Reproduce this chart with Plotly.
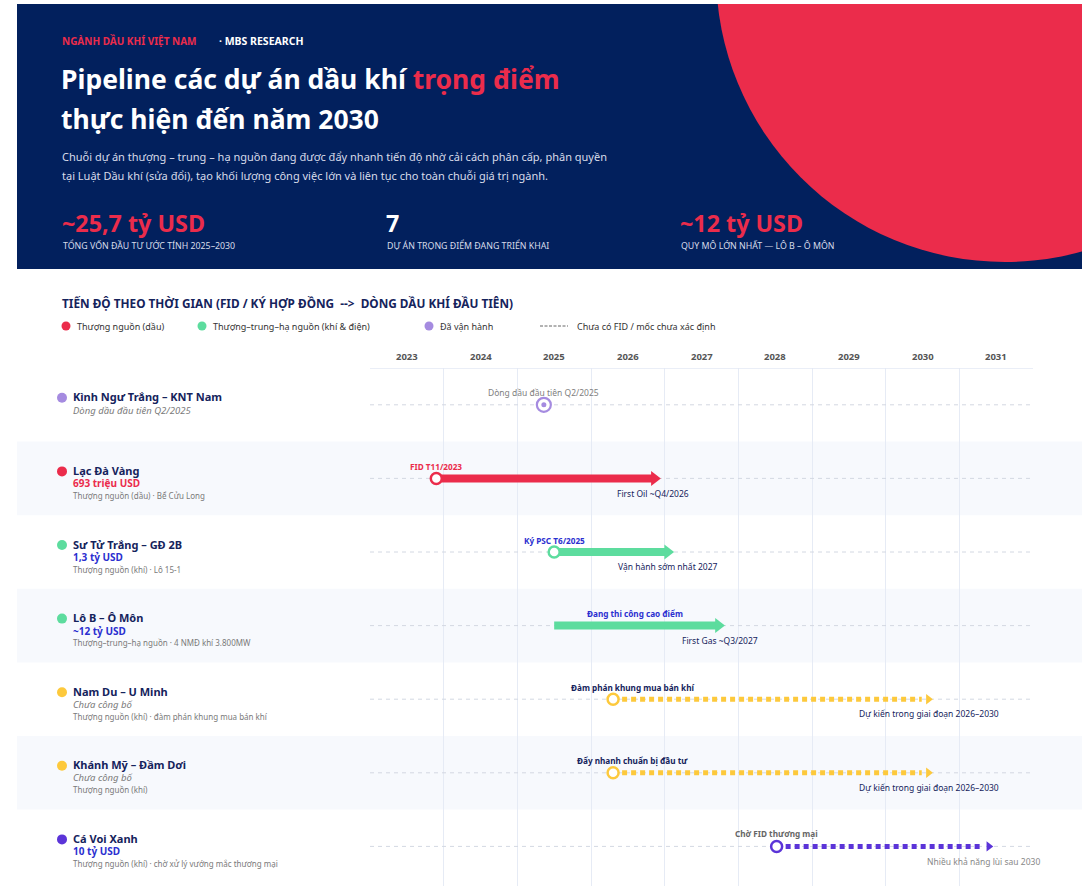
import plotly.graph_objects as go

W, H = 1088, 886

# ---- data ----
projects = ["Kình Ngư Trắng – KNT Nam", "Lạc Đà Vàng", "Sư Tử Trắng – GĐ 2B", "Lô B – Ô Môn",
            "Nam Du – U Minh", "Khánh Mỹ – Đầm Dơi", "Cá Voi Xanh"]
values = ["Dòng dầu đầu tiên Q2/2025", "693 triệu USD", "1,3 tỷ USD", "~12 tỷ USD",
          "Chưa công bố", "Chưa công bố", "10 tỷ USD"]
details = ["", "Thượng nguồn (dầu) · Bể Cửu Long", "Thượng nguồn (khí) · Lô 15-1",
           "Thượng–trung–hạ nguồn · 4 NMĐ khí 3.800MW",
           "Thượng nguồn (khí) · đàm phán khung mua bán khí", "Thượng nguồn (khí)",
           "Thượng nguồn (khí) · chờ xử lý vướng mắc thương mại"]
segment = ["operating", "oil", "gas", "gas", "pending", "pending", "pending_deep"]
status = ["operating", "fid", "fid", "construction", "no_fid", "no_fid", "no_fid"]
start_year = [2025.36, 2023.9, 2025.5, 2025.5, 2026.3, 2026.3, 2028.52]
end_year = [2025.36, 2026.84, 2027.02, 2027.71, 2030.49, 2030.49, 2031.31]
top_label = ["Dòng dầu đầu tiên Q2/2025", "FID T11/2023", "Ký PSC T6/2025", "Đang thi công cao điểm",
             "Đàm phán khung mua bán khí", "Đẩy nhanh chuẩn bị đầu tư", "Chờ FID thương mại"]
top_label_x = [2025.36, 2023.9, 2025.5, 2026.6, 2026.56, 2026.56, 2028.52]
end_label = ["", "First Oil ~Q4/2026", "Vận hành sớm nhất 2027", "First Gas ~Q3/2027",
             "Dự kiến trong giai đoạn 2026–2030", "Dự kiến trong giai đoạn 2026–2030",
             "Nhiều khả năng lùi sau 2030"]
end_label_x = [None, 2026.84, 2027.05, 2027.75, 2030.59, 2030.59, 2031.33]
years = list(range(2023, 2032))

legend_items = ["Thượng nguồn (dầu)", "Thượng–trung–hạ nguồn (khí & điện)", "Đã vận hành"]
legend_note = "Chưa có FID / mốc chưa xác định"

kpi_values = ["~25,7 tỷ USD", "7", "~12 tỷ USD"]
kpi_labels = ["TỔNG VỐN ĐẦU TƯ ƯỚC TÍNH 2025–2030", "DỰ ÁN TRỌNG ĐIỂM ĐANG TRIỂN KHAI",
              "QUY MÔ LỚN NHẤT — LÔ B – Ô MÔN"]

# ---- styling ----
NAVY = "#02205d"
RED = "#eb2c4b"
GREEN = "#5ddc9e"
LAVENDER = "#a58be0"
YELLOW = "#fdc93c"
PURPLE = "#5b34d8"
BLUE = "#2b2fd0"
INK = "#15235c"
GREY = "#7a7a7a"
FONT = "Noto Sans"

seg_color = {"operating": LAVENDER, "oil": RED, "gas": GREEN, "pending": YELLOW, "pending_deep": PURPLE}
value_color = [GREY, RED, BLUE, BLUE, GREY, GREY, BLUE]
top_color = ["#808080", RED, BLUE, BLUE, INK, INK, "#666666"]
end_color = [INK, INK, INK, INK, INK, INK, "#888888"]


def px(x):
    return x / W


def py(y):
    return 1 - y / H


TOP, ROWH = 368, 73.6
NROWS = len(projects)
fig = go.Figure()

shapes = []
annotations = []

# header block
shapes.append(dict(type="rect", xref="paper", yref="paper", x0=px(17), x1=px(1082), y0=py(269), y1=py(4),
                   fillcolor=NAVY, line_width=0, layer="below"))
cx, cy, r = 1005, -27, 289
shapes.append(dict(type="circle", xref="paper", yref="paper", x0=px(cx - r), x1=px(cx + r),
                   y0=py(cy + r), y1=py(cy - r), fillcolor=RED, line_width=0, layer="below"))
shapes.append(dict(type="rect", xref="paper", yref="paper", x0=px(1082), x1=px(1200), y0=py(280), y1=py(-400),
                   fillcolor="white", line_width=0, layer="below"))
shapes.append(dict(type="rect", xref="paper", yref="paper", x0=px(0), x1=px(1200), y0=py(4), y1=py(-400),
                   fillcolor="white", line_width=0, layer="below"))


def text(x, y, s, size, color, bold=False, italic=False, anchor="left", family=FONT):
    if bold:
        s = "<b>" + s + "</b>"
    if italic:
        s = "<i>" + s + "</i>"
    annotations.append(dict(xref="paper", yref="paper", x=px(x - 2), y=py(y), text=s, showarrow=False,
                            xanchor=anchor, yanchor="middle", font=dict(family=family, size=size, color=color)))


text(62, 41, "NGÀNH DẦU KHÍ VIỆT NAM", 10, RED, bold=True)
text(219, 41, "· MBS RESEARCH", 10.5, "white", bold=True)
text(61, 79, "Pipeline các dự án dầu khí <span style='color:%s'>trọng điểm</span>" % RED, 26.5, "white", bold=True)
text(61, 119, "thực hiện đến năm 2030", 26.5, "white", bold=True)
text(62, 156, "Chuỗi dự án thượng – trung – hạ nguồn đang được đẩy nhanh tiến độ nhờ cải cách phân cấp, phân quyền",
     11, "#d8dcea")
text(62, 176, "tại Luật Dầu khí (sửa đổi), tạo khối lượng công việc lớn và liên tục cho toàn chuỗi giá trị ngành.",
     11, "#d8dcea")
for xk, v, lab, col in zip([62, 386, 680], kpi_values, kpi_labels, [RED, "white", RED]):
    text(xk, 223, v, 23.3, col, bold=True)
    text(xk + 1, 246, lab, 8.8, "#d8dcea")

# section title + legend
text(62, 303, "TIẾN ĐỘ THEO THỜI GIAN (FID / KÝ HỢP ĐỒNG &nbsp;--&gt;&nbsp; DÒNG DẦU KHÍ ĐẦU TIÊN)", 11.8, INK,
     bold=True)
for lx, lab, col in zip([66, 202, 429], legend_items, [RED, GREEN, LAVENDER]):
    shapes.append(dict(type="circle", xref="paper", yref="paper", x0=px(lx - 4.5), x1=px(lx + 4.5),
                       y0=py(326 + 4.5), y1=py(326 - 4.5), fillcolor=col, line_width=0))
    text(lx + 11, 326, lab, 9, "#333333")
shapes.append(dict(type="line", xref="paper", yref="paper", x0=px(540), x1=px(568), y0=py(326), y1=py(326),
                   line=dict(color="#666666", width=1, dash="3px,1.5px")))
text(577, 326, legend_note, 9, "#333333")

# year labels
for yv in years:
    annotations.append(dict(xref="x", yref="paper", x=yv + 0.5, y=py(356), text="<b>%d</b>" % yv,
                            showarrow=False, xanchor="center", yanchor="middle",
                            font=dict(family=FONT, size=9.5, color="#555555")))

# row bands and guides
for i in range(NROWS):
    if i % 2 == 1:
        shapes.append(dict(type="rect", xref="paper", yref="y", x0=px(17), x1=px(1082), y0=i, y1=i + 1,
                           fillcolor="#f7f9fd", line_width=0, layer="between"))
    shapes.append(dict(type="line", xref="x", yref="y", x0=2023, x1=2032, y0=i + 0.5, y1=i + 0.5,
                       line=dict(color="#d3d8e2", width=1, dash="4px,4px"), layer="between"))
shapes.append(dict(type="line", xref="x", yref="y", x0=2023, x1=2032, y0=0, y1=0,
                   line=dict(color="#e3e9f5", width=1.5), layer="between"))

for i in range(NROWS):
    c = i + 0.5
    col = seg_color[segment[i]]
    # left labels
    shapes.append(dict(type="circle", xref="paper", yref="y", xsizemode="pixel", ysizemode="pixel",
                       xanchor=px(62), yanchor=c, x0=-5, x1=5, y0=7 - 5, y1=7 + 5,
                       fillcolor=col, line_width=0))
    annotations.append(dict(xref="paper", yref="y", x=px(71), y=c, yshift=8, text="<b>%s</b>" % projects[i],
                            showarrow=False, xanchor="left", yanchor="middle",
                            font=dict(family=FONT, size=11, color=INK)))
    if value_color[i] == GREY:
        vtxt = "<i>%s</i>" % values[i]
        vsize = 9.5
    else:
        vtxt = "<b>%s</b>" % values[i]
        vsize = 10
    annotations.append(dict(xref="paper", yref="y", x=px(71), y=c, yshift=-5 if details[i] else -6,
                            text=vtxt, showarrow=False, xanchor="left", yanchor="middle",
                            font=dict(family=FONT, size=vsize, color=value_color[i])))
    if details[i]:
        annotations.append(dict(xref="paper", yref="y", x=px(71), y=c, yshift=-17, text=details[i],
                                showarrow=False, xanchor="left", yanchor="middle",
                                font=dict(family=FONT, size=8, color=GREY)))

    # timeline marks
    if status[i] == "operating":
        fig.add_trace(go.Scatter(x=[start_year[i]], y=[c], mode="markers",
                                 marker=dict(size=14, color="white", line=dict(color=col, width=2.2))))
        fig.add_trace(go.Scatter(x=[start_year[i]], y=[c], mode="markers",
                                 marker=dict(size=5, color=col)))
    else:
        dotted = status[i] == "no_fid"
        fig.add_trace(go.Scatter(x=[start_year[i], end_year[i]], y=[c, c], mode="lines",
                                 line=dict(color=col, width=5 if dotted else 8,
                                           dash="5px,4px" if dotted else "solid")))
        fig.add_trace(go.Scatter(x=[end_year[i] + (0.09 if dotted else 0.02)], y=[c], mode="markers",
                                 marker=dict(symbol="triangle-right", size=9 if dotted else 13, color=col)))
        if status[i] != "construction":
            fig.add_trace(go.Scatter(x=[start_year[i]], y=[c], mode="markers",
                                     marker=dict(size=11, color="white", line=dict(color=col, width=2.5))))
    bold_top = i > 0
    annotations.append(dict(xref="x", yref="y", x=top_label_x[i], y=c, yshift=12,
                            text=("<b>%s</b>" % top_label[i]) if bold_top else top_label[i],
                            showarrow=False, xanchor="center", yanchor="middle",
                            font=dict(family=FONT, size=8.2 if bold_top else 8.5, color=top_color[i])))
    if end_label[i]:
        annotations.append(dict(xref="x", yref="y", x=end_label_x[i], y=c, yshift=-15, text=end_label[i],
                                showarrow=False, xanchor="center", yanchor="middle",
                                font=dict(family=FONT, size=8.5, color=end_color[i])))

fig.update_traces(showlegend=False, hoverinfo="skip")
fig.update_layout(
    width=W, height=H,
    margin=dict(l=0, r=0, t=0, b=0),
    paper_bgcolor="white", plot_bgcolor="rgba(0,0,0,0)",
    shapes=shapes, annotations=annotations,
    xaxis=dict(domain=[px(370), px(1033)], range=[2023, 2032], tickvals=years[1:],
               showticklabels=False, showgrid=True, gridcolor="#e6ebf5", gridwidth=1,
               zeroline=False, showline=False, fixedrange=True),
    yaxis=dict(domain=[0, py(TOP)], range=[(H - TOP) / ROWH, 0], showgrid=False, showticklabels=False,
               zeroline=False, showline=False, fixedrange=True),
)

# the page body keeps its default 8px margin otherwise
fig.write_html("out.html", config={"displayModeBar": False},
               post_script="document.body.style.margin = '0';")
